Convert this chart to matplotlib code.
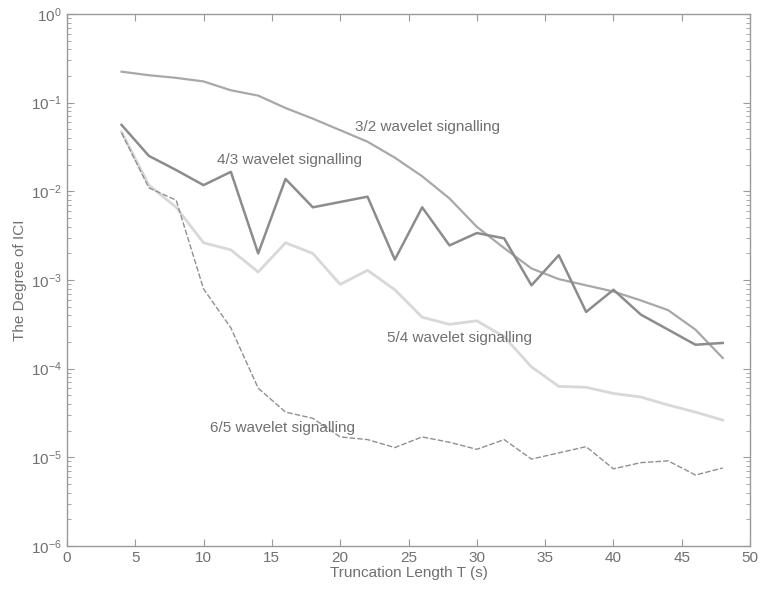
import matplotlib
matplotlib.use('Agg')
import matplotlib.pyplot as plt
import numpy as np

# ===== DATA (log10 of the degree of ICI) =====
T = [4, 6, 8, 10, 12, 14, 16, 18, 20, 22, 24, 26, 28, 30, 32, 34, 36, 38, 40, 42, 44, 46, 48]

LOG_32 = [-0.65, -0.69, -0.72, -0.76, -0.86, -0.92, -1.06, -1.18, -1.31, -1.44, -1.62, -1.83,
          -2.08, -2.40, -2.64, -2.87, -2.99, -3.06, -3.13, -3.23, -3.34, -3.56, -3.88]
LOG_43 = [-1.25, -1.60, -1.76, -1.93, -1.78, -2.70, -1.86, -2.18, -2.12, -2.06, -2.77, -2.18,
          -2.61, -2.47, -2.53, -3.06, -2.72, -3.36, -3.11, -3.39, -3.56, -3.73, -3.71]
LOG_54 = [-1.33, -1.93, -2.18, -2.58, -2.66, -2.91, -2.58, -2.70, -3.05, -2.89, -3.11, -3.42,
          -3.50, -3.46, -3.64, -3.98, -4.20, -4.21, -4.28, -4.32, -4.41, -4.49, -4.58]
LOG_65 = [-1.34, -1.96, -2.10, -3.10, -3.54, -4.22, -4.49, -4.56, -4.77, -4.80, -4.89, -4.77,
          -4.83, -4.91, -4.80, -5.02, -4.95, -4.88, -5.13, -5.06, -5.04, -5.20, -5.12]

LABELS = ["3/2 wavelet signalling", "4/3 wavelet signalling",
          "5/4 wavelet signalling", "6/5 wavelet signalling"]
LABEL_POS = [(21.1, 10**-1.27), (11.0, 10**-1.65), (23.4, 10**-3.65), (10.5, 10**-4.67)]

plt.rcParams['font.family'] = ['Liberation Sans', 'DejaVu Sans']
plt.rcParams['mathtext.fontset'] = 'custom'
plt.rcParams['mathtext.rm'] = 'Liberation Sans'

fig = plt.figure(figsize=(7.6, 5.95), dpi=100)
ax = fig.add_axes([0.088, 0.0824, 0.899, 0.894])

to_val = lambda arr: 10 ** np.array(arr)
ax.plot(T, to_val(LOG_32), color='#a8a8a8', linewidth=1.6)
ax.plot(T, to_val(LOG_43), color='#8c8c8c', linewidth=1.8)
ax.plot(T, to_val(LOG_54), color='#d8d8d8', linewidth=2.0)
ax.plot(T, to_val(LOG_65), color='#909090', linewidth=1.0, linestyle=(0, (4, 1.5)))

for lab, (x, y) in zip(LABELS, LABEL_POS):
    ax.text(x, y, lab, fontsize=11, color='#707070', va='center', ha='left')

ax.set_yscale('log')
ax.set_xlim(0, 50)
ax.set_ylim(1e-6, 1e0)
ax.set_xticks(np.arange(0, 51, 5))
ax.set_yticks([10.0**k for k in range(-6, 1)])

for s in ax.spines.values():
    s.set_color('#9a9a9a')
    s.set_linewidth(1.0)
ax.tick_params(which='both', direction='in', top=True, right=True, colors='#9a9a9a',
               labelcolor='#707070', labelsize=11)
ax.tick_params(which='major', length=5)
ax.tick_params(which='minor', length=3)

ax.set_xlabel("Truncation Length T (s)", fontsize=11, color='#707070', labelpad=1)
ax.set_ylabel("The Degree of ICI", fontsize=11, color='#707070', labelpad=3)

plt.savefig("out.png", dpi=100)
plt.close()
